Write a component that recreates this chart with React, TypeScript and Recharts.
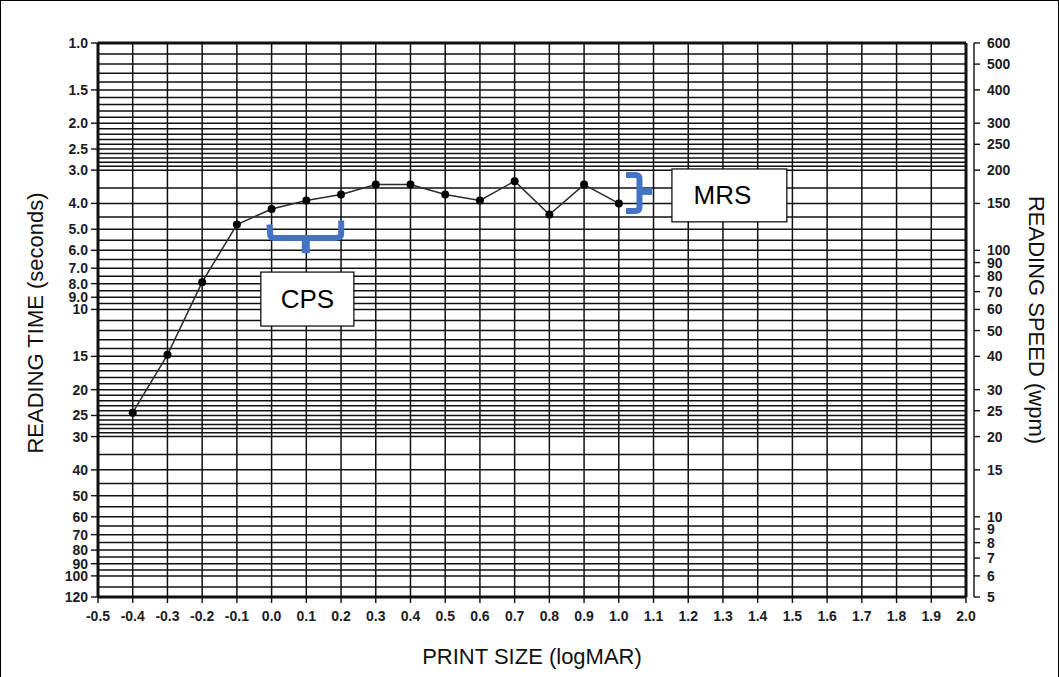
import React from "react";
import {
  LineChart,
  Line,
  XAxis,
  YAxis,
  ReferenceLine,
  ReferenceArea,
} from "recharts";

// ---- data ----
const printSize = [-0.4, -0.3, -0.2, -0.1, 0.0, 0.1, 0.2, 0.3, 0.4, 0.5, 0.6, 0.7, 0.8, 0.9, 1.0];
const readingTime = [24.4, 14.8, 7.9, 4.8, 4.2, 3.9, 3.7, 3.4, 3.4, 3.7, 3.9, 3.3, 4.4, 3.4, 4.0];

const xTicks = [
  -0.5, -0.4, -0.3, -0.2, -0.1, 0.0, 0.1, 0.2, 0.3, 0.4, 0.5, 0.6, 0.7, 0.8, 0.9,
  1.0, 1.1, 1.2, 1.3, 1.4, 1.5, 1.6, 1.7, 1.8, 1.9, 2.0,
];
const timeTicks = [1, 1.5, 2, 2.5, 3, 4, 5, 6, 7, 8, 9, 10, 15, 20, 25, 30, 40, 50, 60, 70, 80, 90, 100, 120];
const speedTicks = [600, 500, 400, 300, 250, 200, 150, 100, 90, 80, 70, 60, 50, 40, 30, 25, 20, 15, 10, 9, 8, 7, 6, 5];

// grid segments of the reading-time scale: [from, to, step]
const gridSegments = [
  [1, 3, 0.1],
  [3, 10, 0.5],
  [10, 30, 1],
  [30, 100, 5],
  [100, 120, 10],
];

const data = printSize.map((x, i) => ({ x, time: readingTime[i] }));

const gridValues: number[] = [];
gridSegments.forEach(([a, b, s]) => {
  const n = Math.round((b - a) / s);
  for (let i = 0; i < n; i++) gridValues.push(Math.round((a + i * s) * 1000) / 1000);
});
gridValues.push(120);

const FONT = "'Liberation Sans', Arial, Helvetica, sans-serif";
const INK = "#111";
const BLUE = "#4472C4";

const tickStyle = { fontSize: 14, fontWeight: "bold" as const, fill: "#1c1c24", fontFamily: FONT };

const fmtTime = (v: number) => (v < 10 ? v.toFixed(1) : String(v));

const CpsBracket = (p: any) => {
  const { x, y, width: w, height: h } = p;
  const cx = x + w / 2;
  const yb = y + h * 0.55;
  return (
    <g>
      <path
        d={`M ${x + 3} ${y + 5} L ${x + 4} ${yb - 2} Q ${x + 5} ${yb} ${x + 10} ${yb} L ${x + w - 10} ${yb} Q ${x + w - 4} ${yb} ${x + w - 4} ${yb - 4} L ${x + w - 4} ${y + 1}`}
        stroke={BLUE}
        strokeWidth={6}
        fill="none"
        strokeLinejoin="round"
      />
      <rect x={cx - 4} y={yb} width={8} height={h - (yb - y)} fill={BLUE} />
    </g>
  );
};

const MrsBracket = (p: any) => {
  const { x, y, width: w, height: h } = p;
  const vx = x + w * 0.55;
  const cy = y + h * 0.45;
  return (
    <g>
      <path
        d={`M ${x + 2} ${y + 3} L ${vx - 4} ${y + 3} Q ${vx} ${y + 3} ${vx} ${y + 7} L ${vx} ${y + h - 7} Q ${vx} ${y + h - 3} ${vx - 4} ${y + h - 3} L ${x + 2} ${y + h - 3}`}
        stroke={BLUE}
        strokeWidth={6}
        fill="none"
        strokeLinejoin="round"
      />
      <rect x={vx} y={cy - 3} width={x + w - vx} height={7} fill={BLUE} />
    </g>
  );
};

const makeBox = (label: string, shift: number) => (p: any) => {
  const { x, y, width: w, height: h } = p;
  return (
    <g>
      <rect x={x} y={y} width={w} height={h} fill="#fff" stroke="#000" strokeWidth={1.2} />
      <text
        x={x + w / 2 + shift}
        y={y + h / 2}
        textAnchor="middle"
        dominantBaseline="central"
        fontSize={26}
        fontFamily={FONT}
        fill="#000"
      >
        {label}
      </text>
    </g>
  );
};

const titleProps = { fontSize: 22, fontFamily: FONT, fill: "#111", textAnchor: "middle" as const, dominantBaseline: "central" as const };

export default function App() {
  return (
    <div
      style={{
        position: "absolute",
        left: 0,
        top: 0,
        width: 1059,
        height: 677,
        background: "#fff",
        boxSizing: "border-box",
        borderLeft: "1px solid #000",
        borderTop: "1px solid #000",
        borderRight: "1px solid #000",
      }}
    >
      <div style={{ position: "absolute", left: -1, top: -1 }}>
        <LineChart
          width={1059}
          height={677}
          data={data}
          margin={{ top: 43, right: 0, bottom: 0, left: 0 }}
          style={{ fontFamily: FONT }}
        >
          <XAxis
            dataKey="x"
            type="number"
            domain={[-0.5, 2.0]}
            ticks={xTicks}
            interval={0}
            tickFormatter={(v: number) => v.toFixed(1)}
            axisLine={false}
            tickLine={{ stroke: INK, strokeWidth: 1.4 }}
            tickSize={6}
            tickMargin={8}
            tick={tickStyle}
            height={80}
            padding={{ left: 0, right: 8 }}
            allowDataOverflow
            label={{
              content: (props: any) => {
                const vb = props.viewBox || {};
                return (
                  <text x={vb.x + (vb.width - 8) / 2} y={vb.y + 59} {...titleProps}>
                    PRINT SIZE (logMAR)
                  </text>
                );
              },
            }}
          />
          <YAxis
            yAxisId="time"
            type="number"
            scale="log"
            domain={[1, 120]}
            reversed
            allowDataOverflow
            ticks={timeTicks}
            interval={0}
            tickFormatter={fmtTime}
            axisLine={false}
            tickLine={{ stroke: INK, strokeWidth: 1.4 }}
            tickSize={7}
            tickMargin={3}
            tick={tickStyle}
            width={98}
            label={{
              content: (props: any) => {
                const vb = props.viewBox || {};
                const cx = vb.x + 35;
                const cy = vb.y + vb.height / 2 + 3;
                return (
                  <text x={cx} y={cy} transform={`rotate(-90, ${cx}, ${cy})`} {...titleProps}>
                    READING TIME (seconds)
                  </text>
                );
              },
            }}
          />
          <YAxis
            yAxisId="speed"
            orientation="right"
            type="number"
            scale="log"
            domain={[5, 600]}
            allowDataOverflow
            ticks={speedTicks}
            interval={0}
            axisLine={{ stroke: INK, strokeWidth: 1.4 }}
            tickLine={{ stroke: INK, strokeWidth: 1.4 }}
            tickSize={6}
            tickMargin={7}
            tick={tickStyle}
            width={85}
            label={{
              content: (props: any) => {
                const vb = props.viewBox || {};
                const cx = vb.x + 62;
                const cy = vb.y + vb.height / 2;
                return (
                  <text x={cx} y={cy} transform={`rotate(90, ${cx}, ${cy})`} {...titleProps}>
                    READING SPEED (wpm)
                  </text>
                );
              },
            }}
          />

          {gridValues.map((v) => (
            <ReferenceLine
              key={`h${v}`}
              yAxisId="time"
              segment={[
                { x: -0.5, y: v },
                { x: 2.0, y: v },
              ]}
              stroke={INK}
              strokeWidth={1.5}
              ifOverflow="visible"
            />
          ))}
          {xTicks.map((v) => (
            <ReferenceLine
              key={`v${v}`}
              yAxisId="time"
              x={v}
              stroke={INK}
              strokeWidth={1.5}
              ifOverflow="visible"
            />
          ))}
          {/* frame of the plot */}
          <ReferenceLine yAxisId="time" segment={[{ x: -0.5, y: 1 }, { x: 2.0, y: 1 }]} stroke={INK} strokeWidth={3} ifOverflow="visible" />
          <ReferenceLine yAxisId="time" segment={[{ x: -0.5, y: 120 }, { x: 2.0, y: 120 }]} stroke={INK} strokeWidth={3} ifOverflow="visible" />
          <ReferenceLine yAxisId="time" segment={[{ x: -0.5, y: 1 }, { x: -0.5, y: 120 }]} stroke={INK} strokeWidth={3} ifOverflow="visible" />
          <ReferenceLine yAxisId="time" segment={[{ x: 2.0, y: 1 }, { x: 2.0, y: 120 }]} stroke={INK} strokeWidth={3} ifOverflow="visible" />

          <Line
            yAxisId="time"
            dataKey="time"
            stroke="#2a2a2a"
            strokeWidth={1.5}
            dot={{ r: 4, fill: "#000", stroke: "#000", strokeWidth: 0 }}
            isAnimationActive={false}
          />

          <ReferenceArea {...({ zIndex: 2000 } as any)} yAxisId="time" x1={-0.015} x2={0.212} y1={4.6} y2={6.15} shape={CpsBracket} ifOverflow="visible" />
          <ReferenceArea {...({ zIndex: 2000 } as any)} yAxisId="time" x1={-0.031} x2={0.237} y1={7.24} y2={11.54} shape={makeBox("CPS", 0)} ifOverflow="visible" />
          <ReferenceArea {...({ zIndex: 2000 } as any)} yAxisId="time" x1={1.015} x2={1.096} y1={3.05} y2={4.38} shape={MrsBracket} ifOverflow="visible" />
          <ReferenceArea {...({ zIndex: 2000 } as any)} yAxisId="time" x1={1.153} x2={1.484} y1={2.97} y2={4.69} shape={makeBox("MRS", -7)} ifOverflow="visible" />
        </LineChart>
      </div>
    </div>
  );
}
